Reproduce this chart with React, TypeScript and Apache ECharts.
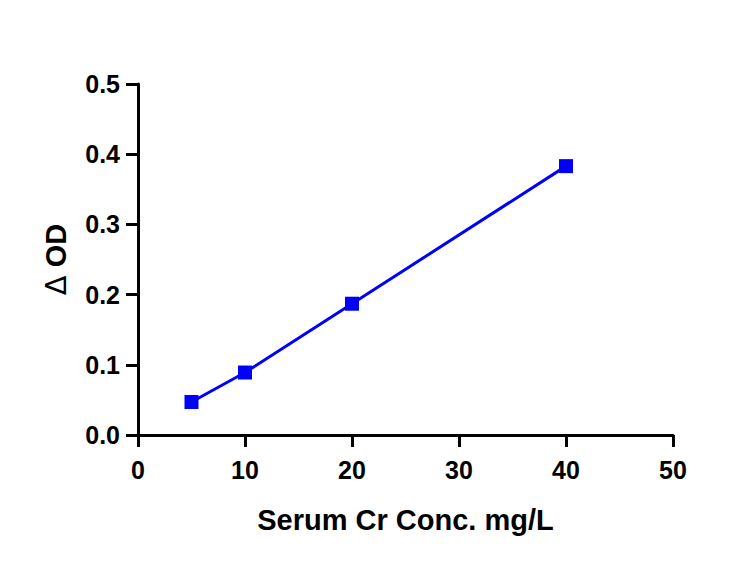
import React, { useEffect, useRef } from "react";
import * as echarts from "echarts";

const concentrations = [5, 10, 20, 40];
const deltaOD = [0.047, 0.089, 0.187, 0.383];
const xTitle = "Serum Cr Conc. mg/L";
const yTitleSymbol = "\u0394";
const yTitleText = "OD";

export default function App() {
  const ref = useRef<HTMLDivElement>(null);
  useEffect(() => {
    const chart = echarts.init(ref.current!, null, { renderer: "svg" });
    const font = "Liberation Sans, Arial, sans-serif";
    const axisLine = { show: true, onZero: false, lineStyle: { color: "#000", width: 3 } };
    const axisTick = { show: true, length: 12, lineStyle: { color: "#000", width: 3 } };
    chart.setOption({
      animation: false,
      backgroundColor: "#fff",
      grid: { left: 138, right: 80, top: 84, bottom: 141, containLabel: false },
      xAxis: {
        type: "value",
        min: 0,
        max: 50,
        interval: 10,
        axisLine,
        axisTick,
        splitLine: { show: false },
        axisLabel: { color: "#000", fontSize: 25, fontWeight: "bold", fontFamily: font, margin: 22 },
        name: xTitle,
        nameLocation: "middle",
        nameGap: 70,
        nameTextStyle: { color: "#000", fontSize: 29, fontWeight: "bold", fontFamily: font },
      },
      yAxis: {
        type: "value",
        min: 0,
        max: 0.5,
        interval: 0.1,
        axisLine,
        axisTick,
        splitLine: { show: false },
        axisLabel: {
          color: "#000",
          fontSize: 25,
          fontWeight: "bold",
          fontFamily: font,
          margin: 18,
          formatter: (v: number) => v.toFixed(1),
        },
        name: `{d|${yTitleSymbol}} {t|${yTitleText}}`,
        nameLocation: "middle",
        nameGap: 68,
        nameTextStyle: {
          color: "#000",
          fontSize: 29,
          fontWeight: "bold",
          fontFamily: font,
          rich: {
            d: { color: "#000", fontSize: 29, fontWeight: "normal", fontFamily: "DejaVu Sans, sans-serif" },
            t: { color: "#000", fontSize: 29, fontWeight: "bold", fontFamily: font },
          },
        },
      },
      series: [
        {
          type: "line",
          data: concentrations.map((c, i) => [c, deltaOD[i]]),
          symbol: "rect",
          symbolSize: 14,
          lineStyle: { color: "#0000ff", width: 3 },
          itemStyle: { color: "#0000ff" },
        },
      ],
    });
    return () => chart.dispose();
  }, []);
  return <div ref={ref} style={{ width: 753, height: 576, position: "absolute", left: 0, top: 0 }} />;
}
